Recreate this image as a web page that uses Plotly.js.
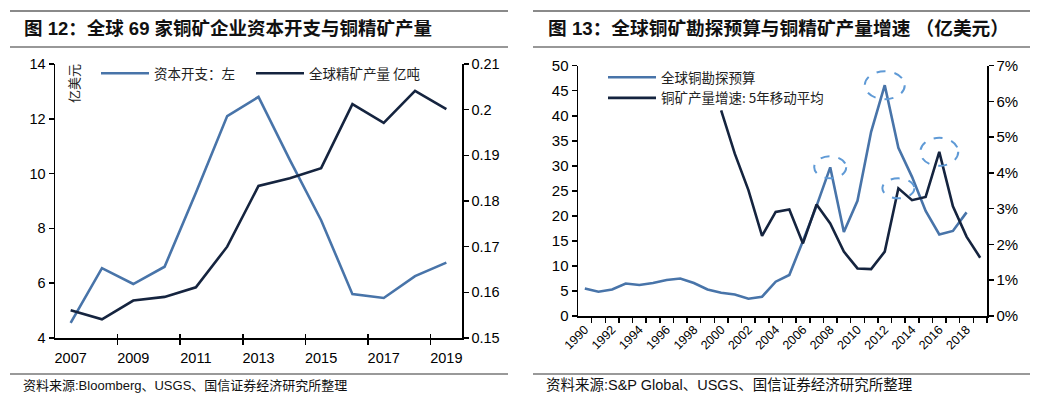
<!DOCTYPE html>
<html>
<head>
<meta charset="utf-8">
<script src="https://cdn.plot.ly/plotly-3.0.1.min.js"></script>
<style>
  html, body { margin: 0; padding: 0; background: #fff; }
  #chart { width: 1039px; height: 396px; }
</style>
</head>
<body>
<div id="chart"></div>
<script>
// ---------- data: left chart (图12) ----------
const years1 = [2007, 2008, 2009, 2010, 2011, 2012, 2013, 2014, 2015, 2016, 2017, 2018, 2019];
const capex = [4.55, 6.55, 5.97, 6.6, 9.3, 12.1, 12.8, 10.5, 8.3, 5.6, 5.46, 6.26, 6.75];        // 亿美元
const production = [0.1561, 0.1541, 0.1582, 0.1590, 0.1611, 0.1700, 0.1833, 0.1850, 0.1872, 0.2012, 0.1971, 0.2041, 0.2001]; // 亿吨

// ---------- data: right chart (图13) ----------
const years2 = [1990, 1991, 1992, 1993, 1994, 1995, 1996, 1997, 1998, 1999,
                2000, 2001, 2002, 2003, 2004, 2005, 2006, 2007, 2008, 2009,
                2010, 2011, 2012, 2013, 2014, 2015, 2016, 2017, 2018, 2019];
const explore = [5.5, 4.85, 5.3, 6.5, 6.2, 6.6, 7.2, 7.5, 6.6, 5.3,
                 4.65, 4.3, 3.45, 3.85, 6.85, 8.2, 15.0, 22.0, 29.7, 16.8,
                 23.0, 36.8, 46.1, 33.6, 27.8, 21.0, 16.3, 17.0, 20.7, null];   // 亿美元
const growth = [null, null, null, null, null, null, null, null, null, null,
                5.75, 4.54, 3.52, 2.24, 2.91, 2.98, 2.03, 3.12, 2.59, 1.80,
                1.33, 1.31, 1.80, 3.57, 3.24, 3.33, 4.59, 3.07, 2.22, 1.63];    // %
const highlightExplore = [2008, 2012];
const highlightGrowth = [2013, 2016];

// ---------- text ----------
const title1 = '图 12：全球 69 家铜矿企业资本开支与铜精矿产量';
const title2 = '图 13：全球铜矿勘探预算与铜精矿产量增速 （亿美元）';
const source1 = '资料来源:Bloomberg、USGS、国信证券经济研究所整理';
const source2 = '资料来源:S&P Global、USGS、国信证券经济研究所整理';
const names = ['资本开支：左', '全球精矿产量 亿吨', '全球铜勘探预算', '铜矿产量增速: 5年移动平均'];
const unitLeft = '亿美元';

// ---------- styling ----------
const W = 1039, H = 396;
const px = x => x / W;
const py = y => 1 - y / H;
const BLUE = '#4874a9';
const NAVY = '#15243f';
const RING = '#5f9ad6';
const FONT = 'Liberation Sans, Arial, Noto Sans CJK SC, sans-serif';
const CJK = 'Noto Sans CJK SC, Liberation Sans, sans-serif';

const left2 = years1.filter((y, i) => i % 2 === 0);
const leftBounds = years1.filter((y, i) => i % 2 === 1).map(y => y + 0.5);
const right2 = years2.filter((y, i) => i % 2 === 0);
const rightBounds = years2.map(y => y + 0.5);

const traces = [
  { x: years1, y: capex, xaxis: 'x', yaxis: 'y', type: 'scatter', mode: 'lines',
    name: names[0], legend: 'legend', line: { color: BLUE, width: 2.6 } },
  { x: years1, y: production, xaxis: 'x', yaxis: 'y2', type: 'scatter', mode: 'lines',
    name: names[1], legend: 'legend3', line: { color: NAVY, width: 2.6 } },
  { x: years2, y: explore, xaxis: 'x2', yaxis: 'y3', type: 'scatter', mode: 'lines',
    name: names[2], legend: 'legend2', line: { color: BLUE, width: 2.6 } },
  { x: years2, y: growth, xaxis: 'x2', yaxis: 'y4', type: 'scatter', mode: 'lines',
    name: names[3], legend: 'legend2', line: { color: NAVY, width: 2.6 } },
  // carrier for the inside half of the crossing ticks on the left chart
  { x: years1, y: capex, xaxis: 'x3', yaxis: 'y', type: 'scatter', mode: 'lines',
    showlegend: false, hoverinfo: 'skip', opacity: 0, line: { width: 0 } }
];

const axisCommon = {
  showline: true, linecolor: '#000', linewidth: 1.5,
  showgrid: false, zeroline: false, fixedrange: true,
  tickcolor: '#000', tickwidth: 1.5, ticklen: 5, ticks: 'outside',
  tickfont: { family: FONT, size: 14.5, color: '#000' }
};

const shapes = [];
// header / footer rules
[[10, 508], [533, 1030]].forEach(([a, b]) => {
  shapes.push({ type: 'line', xref: 'paper', yref: 'paper', x0: px(a), x1: px(b), y0: py(11), y1: py(11),
                line: { color: '#8a8a8a', width: 2 } });
  shapes.push({ type: 'line', xref: 'paper', yref: 'paper', x0: px(a), x1: px(b), y0: py(47), y1: py(47),
                line: { color: '#333', width: 1.2 } });
  shapes.push({ type: 'line', xref: 'paper', yref: 'paper', x0: px(a), x1: px(b), y0: py(374), y1: py(374),
                line: { color: '#777', width: 1.5 } });
});
// dashed highlight rings
const ringSize = { 2008: [16, 11], 2012: [20, 14], 2013: [16, 10], 2016: [19, 14] };
highlightExplore.forEach(yr => {
  const i = years2.indexOf(yr);
  const [rx, ry] = ringSize[yr];
  shapes.push({ type: 'circle', xref: 'x2', yref: 'y3', xsizemode: 'pixel', ysizemode: 'pixel',
    xanchor: years2[i], yanchor: explore[i], x0: -rx, x1: rx, y0: -ry, y1: ry,
    line: { color: RING, width: 2, dash: 'dash' } });
});
highlightGrowth.forEach(yr => {
  const i = years2.indexOf(yr);
  const [rx, ry] = ringSize[yr];
  shapes.push({ type: 'circle', xref: 'x2', yref: 'y4', xsizemode: 'pixel', ysizemode: 'pixel',
    xanchor: years2[i], yanchor: growth[i], x0: -rx, x1: rx, y0: -ry, y1: ry,
    line: { color: RING, width: 2, dash: 'dash' } });
});

const annotations = [
  { text: '<b>' + title1 + '</b>', xref: 'paper', yref: 'paper', x: px(22), y: py(28),
    xanchor: 'left', yanchor: 'middle', showarrow: false,
    font: { family: FONT, size: 18.5, color: '#111' } },
  { text: '<b>' + title2 + '</b>', xref: 'paper', yref: 'paper', x: px(546), y: py(28),
    xanchor: 'left', yanchor: 'middle', showarrow: false,
    font: { family: FONT, size: 18.7, color: '#111' } },
  { text: source1, xref: 'paper', yref: 'paper', x: px(21), y: py(385),
    xanchor: 'left', yanchor: 'middle', showarrow: false,
    font: { family: FONT, size: 13, color: '#111' } },
  { text: source2, xref: 'paper', yref: 'paper', x: px(544), y: py(385),
    xanchor: 'left', yanchor: 'middle', showarrow: false,
    font: { family: FONT, size: 14.5, color: '#111' } },
  { text: unitLeft, xref: 'paper', yref: 'paper', x: px(73), y: py(84),
    xanchor: 'center', yanchor: 'middle', textangle: -90, showarrow: false,
    font: { family: CJK, size: 13, color: '#222' } }
];

const legendBase = {
  xanchor: 'left', yanchor: 'top', bgcolor: 'rgba(0,0,0,0)', borderwidth: 0, itemwidth: 48,
  font: { family: CJK, size: 13.5, color: '#222' }
};

const layout = {
  width: W, height: H,
  margin: { l: 0, r: 0, t: 0, b: 0 },
  paper_bgcolor: '#fff', plot_bgcolor: 'rgba(0,0,0,0)',
  font: { family: FONT, color: '#000' },
  hovermode: false,
  xaxis: Object.assign({}, axisCommon, {
    domain: [px(55), px(462)], anchor: 'y', range: [2006.5, 2019.5],
    tickmode: 'array', tickvals: left2, ticks: '', ticklabelstandoff: 6,
    minor: { tickmode: 'array', tickvals: leftBounds, ticks: 'outside', ticklen: 5,
             tickcolor: '#000', tickwidth: 1.5 }
  }),
  xaxis3: {
    overlaying: 'x', anchor: 'y', range: [2006.5, 2019.5], showline: false, showgrid: false,
    zeroline: false, fixedrange: true, showticklabels: false,
    tickmode: 'array', tickvals: leftBounds, ticks: 'inside', ticklen: 4,
    tickcolor: '#000', tickwidth: 1.5
  },
  yaxis: Object.assign({}, axisCommon, {
    domain: [py(338), py(64)], anchor: 'x', range: [4, 14], tick0: 0, dtick: 2
  }),
  yaxis2: Object.assign({}, axisCommon, {
    overlaying: 'y', side: 'right', anchor: 'x', range: [0.15, 0.21], tick0: 0.15, dtick: 0.01
  }),
  xaxis2: Object.assign({}, axisCommon, {
    domain: [px(578), px(987)], anchor: 'y3', range: [1989.5, 2019.5],
    tickmode: 'array', tickvals: right2, ticks: '', tickangle: -45,
    tickfont: { family: FONT, size: 12.5, color: '#000' },
    minor: { tickmode: 'array', tickvals: rightBounds, ticks: 'outside', ticklen: 5,
             tickcolor: '#000', tickwidth: 1.5 }
  }),
  yaxis3: Object.assign({}, axisCommon, {
    domain: [py(316), py(65.7)], anchor: 'x2', range: [0, 50], tick0: 0, dtick: 5,
    tickfont: { family: FONT, size: 15, color: '#000' }
  }),
  yaxis4: Object.assign({}, axisCommon, {
    overlaying: 'y3', side: 'right', anchor: 'x2', range: [0, 7], tick0: 0, dtick: 1,
    ticksuffix: '%', tickfont: { family: FONT, size: 15, color: '#000' }
  }),
  legend: Object.assign({}, legendBase, { orientation: 'h', x: px(96), y: py(58) }),
  legend3: Object.assign({}, legendBase, { orientation: 'h', x: px(251), y: py(58) }),
  legend2: Object.assign({}, legendBase, { orientation: 'v', x: px(603), y: py(62), tracegroupgap: 0 }),
  shapes: shapes,
  annotations: annotations
};

Plotly.newPlot('chart', traces, layout, { staticPlot: true, displayModeBar: false });
</script>
</body>
</html>
